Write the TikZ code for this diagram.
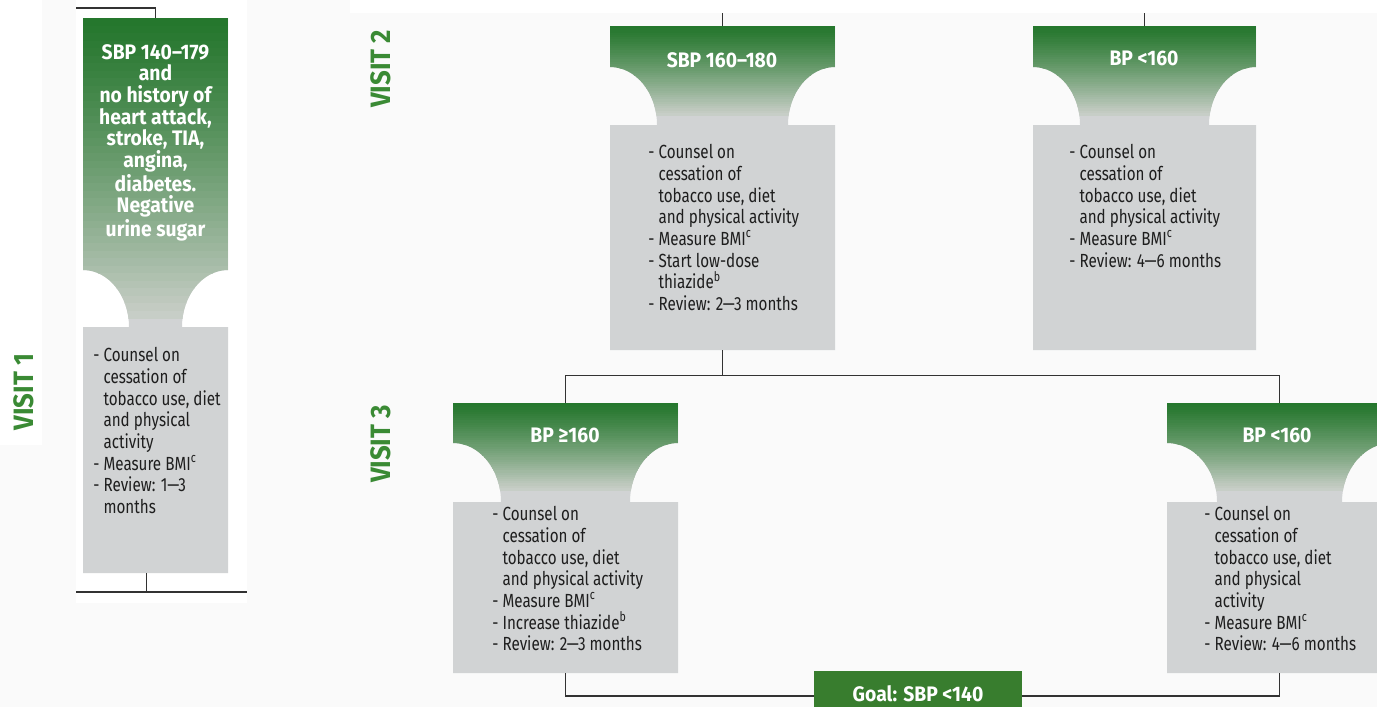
\documentclass[tikz,border=0pt]{standalone}
\usepackage{fontspec}
\setmainfont{Fira Sans}[FakeStretch=0.8]
\newfontfamily\hdfont{Fira Sans}[FakeStretch=0.92]
\usetikzlibrary{fit}
\definecolor{gtop}{RGB}{36,118,44}
\definecolor{gbot}{RGB}{202,207,201}
\definecolor{boxgray}{RGB}{209,211,212}
\definecolor{goalgreen}{RGB}{56,125,46}
\definecolor{visitgreen}{RGB}{58,138,52}
\definecolor{linec}{RGB}{50,50,50}
\definecolor{bgc}{RGB}{250,250,250}
\definecolor{bodytext}{RGB}{30,30,30}
\newcommand\ind{\hphantom{-\ }}
\newcommand\mycard[9]{%
  \path[fill=boxgray, path picture={%
      \foreach \i in {0,...,39}{%
        \pgfmathsetmacro\p{100*((\i+0.5)/40)^1.2}%
        \fill[gbot!\p!gtop] (#2,{#4+(#6-#4)*\i/40}) rectangle (#3,{#4+(#6-#4)*(\i+1)/40+0.6});
      }}]
    (#2,#4) -- (#3,#4) -- (#3,#5)
    .. controls ({#3-0.5523*#9},#5) and ({#3-#9},{#7-0.5523*(#7-#5)}) .. ({#3-#9},#7)
    -- (#3,#7) -- (#3,#8) -- (#2,#8) -- (#2,#7) -- ({#2+#9},#7)
    .. controls ({#2+#9},{#7-0.5523*(#7-#5)}) and ({#2+0.5523*#9},#5) .. (#2,#5) -- cycle;
  \node[fit={(#2,#4) (#3,#8)}, inner sep=0pt] (#1) {};
}
\tikzset{
  conn/.style={draw=linec, line width=0.9pt},
  hdr/.style={text=white, font=\hdfont\bfseries\fontsize{10.5}{10.8}\selectfont, align=center, inner sep=0pt},
  body/.style={text=bodytext, font=\fontsize{9.5}{10.85}\selectfont, align=left, inner sep=0pt, anchor=north west},
  visit/.style={text=visitgreen, font=\hdfont\bfseries\fontsize{14}{14}\selectfont, rotate=90, inner sep=0pt},
  goalbox/.style={fill=goalgreen, text=white, font=\hdfont\bfseries\fontsize{10.5}{12}\selectfont, inner sep=0pt, minimum width=104pt, minimum height=23pt},
}
\begin{document}
\begin{tikzpicture}[x=0.5pt,y=-0.5pt]
\useasboundingbox (0,0) rectangle (1377,707);
\clip (0,0) rectangle (1377,707);
\fill[bgc] (0,0) rectangle (1377,707);
\fill[white] (76,0) rectangle (247,603);
\fill[white] (0,0) rectangle (42,445);
\fill[white] (350,0) rectangle (1377,13);

% cards: name, L, R, T, A, G, N, B, inset
\mycard{v1}{83}{228}{18}{270}{318}{327}{573}{46}
\mycard{v2a}{610}{835}{26}{67}{115}{125}{350}{47}
\mycard{v2b}{1033}{1256}{26}{67}{115}{125}{350}{47}
\mycard{v3a}{453}{678}{403}{443}{490}{502}{673}{48}
\mycard{v3b}{1167}{1392}{403}{443}{490}{502}{673}{50}

% headers
\node[hdr, anchor=north] (v1h) at (155.5,44) {SBP 140–179\\and\\no history of\\heart attack,\\stroke, TIA,\\angina,\\diabetes.\\Negative\\urine sugar};
\node[hdr] (v2ah) at (722,60) {SBP 160–180};
\node[hdr] (v2bh) at (1144,58) {BP <160};
\node[hdr] (v3ah) at (565,435) {BP ≥160};
\node[hdr] (v3bh) at (1277,435) {BP <160};

% bodies
\node[body] (v1t) at (93,347) {- Counsel on\\\ind cessation of\\\ind tobacco use, diet\\\ind and physical\\\ind activity\\- Measure BMI\textsuperscript{c}\\- Review: 1—3\\\ind months};
\node[body] (v2at) at (648,144) {- Counsel on\\\ind cessation of\\\ind tobacco use, diet\\\ind and physical activity\\- Measure BMI\textsuperscript{c}\\- Start low-dose\\\ind thiazide\textsuperscript{b}\\- Review: 2—3 months};
\node[body] (v2bt) at (1069,144) {- Counsel on\\\ind cessation of\\\ind tobacco use, diet\\\ind and physical activity\\- Measure BMI\textsuperscript{c}\\- Review: 4—6 months};
\node[body] (v3at) at (492,506) {- Counsel on\\\ind cessation of\\\ind tobacco use, diet\\\ind and physical activity\\- Measure BMI\textsuperscript{c}\\- Increase thiazide\textsuperscript{b}\\- Review: 2—3 months};
\node[body] (v3bt) at (1204,506) {- Counsel on\\\ind cessation of\\\ind tobacco use, diet\\\ind and physical\\\ind activity\\- Measure BMI\textsuperscript{c}\\- Review: 4—6 months};

% visit labels
\node[visit] (vis1) at (24,392) {VISIT 1};
\node[visit] (vis2) at (381,69) {VISIT 2};
\node[visit] (vis3) at (381,444) {VISIT 3};

% goal
\node[goalbox] (goal) at (918,694) {Goal: SBP <140};

% connectors
\coordinate (in1) at (76,8);
\draw[conn] (in1) -| (v1.north);
\coordinate (out1L) at (76,592);
\coordinate (out1R) at (247,592);
\draw[conn] (out1L) -- (out1R);
\coordinate (v1b) at ([xshift=-4.5pt]v1.south);
\draw[conn] (v1b) -- (v1b |- out1L);
\coordinate (topin) at (722,13);
\draw[conn] (v2a.north) -- (v2a.north |- topin);
\draw[conn] (v2b.north) -- (v2b.north |- topin);
\coordinate (split) at ([yshift=-12.5pt]v2a.south);
\draw[conn] (v2a.south) -- (split);
\draw[conn] (v3a.north) |- (split) -| (v3b.north);
\coordinate (goalL) at ([yshift=-1pt]goal.west);
\coordinate (goalR) at ([yshift=-1pt]goal.east);
\draw[conn] (v3a.south) |- (goalL);
\draw[conn] (v3b.south) |- (goalR);
\end{tikzpicture}
\end{document}
